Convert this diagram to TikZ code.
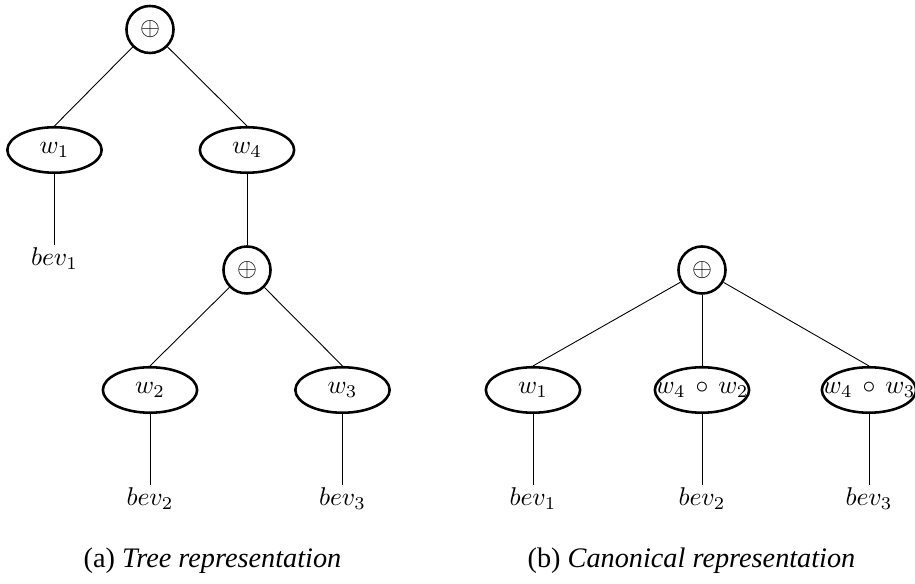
\documentclass[tikz,border=0pt]{standalone}
\usepackage[no-math]{fontspec}
\setmainfont{Liberation Serif}
\usetikzlibrary{shapes.geometric}

\tikzset{
  opnode/.style={circle, draw, line width=1pt, minimum size=18.3pt, inner sep=0pt},
  wnode/.style={ellipse, draw, line width=1pt, minimum width=36.7pt, minimum height=17.7pt, inner sep=0pt},
  leaf/.style={anchor=north, inner sep=1pt},
  edge/.style={line width=0.35pt},
  caption/.style={anchor=base, font=\fontsize{11}{13}\selectfont, inner sep=0pt}
}
% composition operator with a little extra room around it
\newcommand{\compo}{\mathbin{\,\circ\,}}
% label that may spill over its fixed-size ellipse
\newcommand{\spill}[1]{\makebox[0pt]{#1}}

\begin{document}
\begin{tikzpicture}[x=0.3891pt, y=-0.3891pt]
  \useasboundingbox (0,0) rectangle (915,584);

  % (a) tree form
  \node[opnode] (ta) at (150,29.5) {$\oplus$};
  \node[wnode] (tw1) at (54.5,150) {$w_1$};
  \node[wnode] (tw4) at (247,150) {$w_4$};
  \node[leaf] (tb1) at (54.5,245) {$bev_1$};
  \node[opnode] (tb) at (247,270) {$\oplus$};
  \node[wnode] (tw2) at (150,390) {$w_2$};
  \node[wnode] (tw3) at (342.5,390) {$w_3$};
  \node[leaf] (tb2) at (150,485) {$bev_2$};
  \node[leaf] (tb3) at (342.5,485) {$bev_3$};

  \draw[edge] (ta) -- (tw1.north);
  \draw[edge] (ta) -- (tw4.north);
  \draw[edge] (tw1.south) -- (tb1.north);
  \draw[edge] (tw4.south) -- (tb.north);
  \draw[edge] (tb) -- (tw2.north);
  \draw[edge] (tb) -- (tw3.north);
  \draw[edge] (tw2.south) -- (tb2.north);
  \draw[edge] (tw3.south) -- (tb3.north);

  % (b) canonical form
  \node[opnode] (ca) at (702,270) {$\oplus$};
  \node[wnode] (cw1) at (533,390) {$w_1$};
  \node[wnode] (cw2) at (702,390) {\spill{$w_4 \compo w_2$}};
  \node[wnode] (cw3) at (869,390) {\spill{$w_4 \compo w_3$}};
  \node[leaf] (cb1) at (533,485) {$bev_1$};
  \node[leaf] (cb2) at (702,485) {$bev_2$};
  \node[leaf] (cb3) at (869,485) {$bev_3$};

  \draw[edge] (ca) -- (cw1.north);
  \draw[edge] (ca) -- (cw2.north);
  \draw[edge] (ca) -- (cw3.north);
  \draw[edge] (cw1.south) -- (cb1.north);
  \draw[edge] (cw2.south) -- (cb2.north);
  \draw[edge] (cw3.south) -- (cb3.north);

  % captions
  \node[caption] (capa) at (212.5,568) {(a) \textit{Tree representation}};
  \node[caption] (capb) at (691.5,568) {(b) \textit{Canonical representation}};
\end{tikzpicture}
\end{document}
